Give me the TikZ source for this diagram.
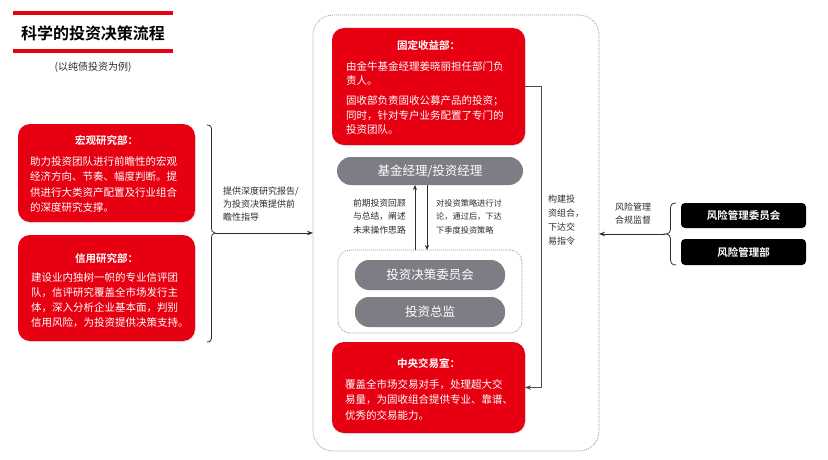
\documentclass[tikz,border=0pt]{standalone}
\usepackage{fontspec}
\setmainfont{Noto Sans CJK SC}[BoldFont={Noto Sans CJK SC Bold}]
\usetikzlibrary{arrows.meta,shadows}
\definecolor{myred}{RGB}{230,0,18}
\definecolor{mygray}{RGB}{125,126,133}
\definecolor{lnc}{RGB}{45,45,45}
\definecolor{dotc}{RGB}{150,150,150}
\tikzset{
  redbox/.style={fill=myred, draw=none, rounded corners=12pt, inner sep=0pt, outer sep=0pt,
    drop shadow={opacity=0.18, shadow xshift=1pt, shadow yshift=-1.2pt}},
  graybar/.style={fill=mygray, draw=none, rounded corners=14pt, inner sep=0pt, outer sep=0pt,
    text=white, font=\fontsize{12.5}{14}\selectfont},
  blackbox/.style={fill=black, draw=none, rounded corners=4pt, inner sep=0pt, outer sep=0pt,
    text=white, font=\bfseries\fontsize{10.5}{12}\selectfont},
  dotbox/.style={draw=dotc, line width=0.7pt, dash pattern=on 1pt off 1pt, inner sep=0pt, outer sep=0pt},
  rtitle/.style={text=white, font=\bfseries\fontsize{10.5}{12}\selectfont, inner sep=0pt},
  rbody/.style={text=white, align=left, inner sep=0pt, anchor=west},
  ltext/.style={text=lnc, inner sep=0pt, font=\fontsize{9}{13}\selectfont},
  conn/.style={draw=lnc, line width=0.8pt, -{Stealth[length=6pt,width=4.5pt]}},
  brc/.style={draw=lnc, line width=0.8pt},
}
\begin{document}
\begin{tikzpicture}[x=1pt,y=-1pt]
\useasboundingbox (0,0) rectangle (828,460);
\fill[white] (0,0) rectangle (828,460);

% title
\draw[myred, line width=4pt] (13,13) -- (173,13);
\draw[myred, line width=4pt] (13,51) -- (173,51);
\node[inner sep=0pt, font=\bfseries\fontsize{16}{18}\selectfont] (title) at (93,33) {科学的投资决策流程};
\node[inner sep=0pt, text=lnc, font=\fontsize{10}{12}\selectfont] (subtitle) at (93,67) {(以纯债投资为例)};

% left boxes
\node[redbox, minimum width=177pt, minimum height=98pt] (macro) at (106.5,173) {};
\node[rtitle] (macroT) at (106.5,140) {宏观研究部：};
\node[rbody, font=\fontsize{10.5}{15.6}\selectfont] (macroB) at (30,184.5)
  {助力投资团队进行前瞻性的宏观\\经济方向、节奏、幅度判断。提\\供进行大类资产配置及行业组合\\的深度研究支撑。};

\node[redbox, minimum width=177pt, minimum height=106pt] (credit) at (106.5,288) {};
\node[rtitle] (creditT) at (106.5,258) {信用研究部：};
\node[rbody, font=\fontsize{10.5}{14.8}\selectfont] (creditB) at (31,300)
  {建设业内独树一帜的专业信评团\\队，信评研究覆盖全市场发行主\\体，深入分析企业基本面，判别\\信用风险，为投资提供决策支持。};

% left brace and arrow
\coordinate (bL) at (215,233);
\draw[brc] (207,125) .. controls (211,125) and (211.5,127) .. (211.5,131) -- (211.5,227)
  .. controls (211.5,231) and (212.5,233) .. (215,233)
  .. controls (212.5,233) and (211.5,235) .. (211.5,239) -- (211.5,336)
  .. controls (211.5,340) and (211,342) .. (207,342);
\node[ltext, align=left, anchor=west] (leftT) at (223,204) {提供深度研究报告/\\为投资决策提供前\\瞻性指导};

% outer dotted box
\node[dotbox, rounded corners=20pt, minimum width=286pt, minimum height=436pt] (outer) at (456,233) {};
\draw[conn] (bL) -- (outer.west);

% fixed income
\node[redbox, minimum width=193pt, minimum height=117pt] (fi) at (428.5,86.5) {};
\node[rtitle] (fiT) at (428.5,45) {固定收益部：};
\node[rbody, font=\fontsize{10.5}{14.5}\selectfont] (fiB) at (346,98)
  {由金牛基金经理姜晓丽担任部门负\\责人。\\[5.5pt]固收部负责固收公募产品的投资；\\同时，针对专户业务配置了专门的\\投资团队。};

% gray bars
\node[graybar, minimum width=186pt, minimum height=28pt] (gm) at (430,171) {基金经理/投资经理};
\node[dotbox, rounded corners=12pt, minimum width=184pt, minimum height=83pt] (inner) at (430,291.5) {};
\node[graybar, minimum width=150pt, minimum height=30pt] (ic) at (430,275) {投资决策委员会};
\node[graybar, minimum width=150pt, minimum height=30pt] (cd) at (430,312) {投资总监};

\coordinate (upx) at (415,0);
\coordinate (dnx) at (427,0);
\draw[conn, line width=0.7pt, -{Stealth[length=5pt,width=4pt]}] (inner.north -| upx) -- (gm.south -| upx);
\draw[conn, line width=0.7pt, -{Stealth[length=5pt,width=4pt]}] (gm.south -| dnx) -- (inner.north -| dnx);
\node[ltext, align=left, anchor=east, font=\fontsize{8.8}{13.5}\selectfont] (midL) at (406,216.5) {前期投资回顾\\与总结，阐述\\未来操作思路};
\node[ltext, align=left, anchor=west, font=\fontsize{8.2}{13.5}\selectfont] (midR) at (436,216.5) {对投资策略进行讨\\论，通过后，下达\\下季度投资策略};

% trading room
\node[redbox, minimum width=193pt, minimum height=91pt] (tr) at (428.5,387.5) {};
\node[rtitle] (trT) at (428.5,363) {中央交易室：};
\node[rbody, font=\fontsize{10.5}{15.5}\selectfont] (trB) at (345,399.5)
  {覆盖全市场交易对手，处理超大交\\易量，为固收组合提供专业、靠谱、\\优秀的交易能力。};

% right connector
\draw[conn, draw=lnc!85] (fi.east) -- ++(16,0) |- (tr.east);
\node[ltext, align=left, anchor=west, font=\fontsize{9}{14}\selectfont] (buildT) at (548,220) {构建投\\资组合，\\下达交\\易指令};

% risk
\node[blackbox, minimum width=125pt, minimum height=25pt] (rm1) at (743.5,215.5) {风险管理委员会};
\node[blackbox, minimum width=125pt, minimum height=26pt] (rm2) at (743.5,252) {风险管理部};
\coordinate (rb) at (665,234);
\draw[brc] (676,203) .. controls (672,203) and (670.5,205) .. (670.5,209) -- (670.5,228)
  .. controls (670.5,232) and (669,234) .. (665,234)
  .. controls (669,234) and (670.5,236) .. (670.5,240) -- (670.5,259)
  .. controls (670.5,263) and (672,265) .. (676,265);
\draw[conn] (rb) -- (rb -| outer.east);
\node[ltext, align=center, font=\fontsize{9}{13}\selectfont] (riskT) at (633,213.5) {风险管理\\合规监督};
\end{tikzpicture}
\end{document}
